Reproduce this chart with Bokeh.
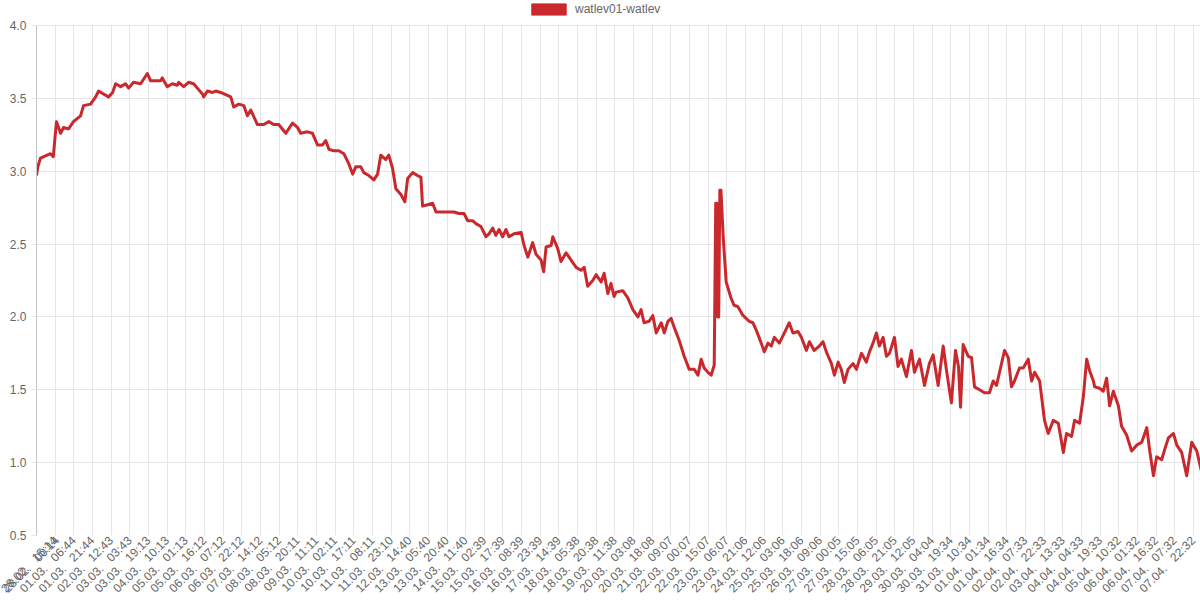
import math
from bokeh.plotting import figure
from bokeh.models import (FixedTicker, Legend, LegendItem, Range1d, BoxAnnotation,
                          PrintfTickFormatter, ColumnDataSource)
from bokeh.embed import file_html
from bokeh.resources import INLINE

series_name = "watlev01-watlev"

tick_dates = ["28.02.", "28.02.", "01.03.", "01.03.", "02.03.", "03.03.", "03.03.", "04.03.",
              "05.03.", "05.03.", "06.03.", "06.03.", "07.03.", "08.03.", "08.03.", "09.03.",
              "10.03.", "10.03.", "11.03.", "11.03.", "12.03.", "13.03.", "13.03.", "14.03.",
              "15.03.", "15.03.", "16.03.", "16.03.", "17.03.", "18.03.", "18.03.", "19.03.",
              "20.03.", "20.03.", "21.03.", "22.03.", "22.03.", "23.03.", "23.03.", "24.03.",
              "25.03.", "25.03.", "26.03.", "27.03.", "27.03.", "28.03.", "28.03.", "29.03.",
              "30.03.", "30.03.", "31.03.", "01.04.", "01.04.", "02.04.", "02.04.", "03.04.",
              "04.04.", "04.04.", "05.04.", "06.04.", "06.04.", "07.04.", "07.04."]
tick_times = ["00:14", "15:14", "06:44", "21:44", "12:43", "03:43", "19:13", "10:13",
              "01:13", "16:12", "07:12", "22:12", "14:12", "05:12", "20:11", "11:11",
              "02:11", "17:11", "08:11", "23:10", "14:40", "05:40", "20:40", "11:40",
              "02:39", "17:39", "08:39", "23:39", "14:39", "05:38", "20:38", "11:38",
              "03:08", "18:08", "09:07", "00:07", "15:07", "06:07", "21:06", "12:06",
              "03:06", "18:06", "09:06", "00:05", "15:05", "06:05", "21:05", "12:05",
              "04:04", "19:34", "10:34", "01:34", "16:34", "07:33", "22:33", "13:33",
              "04:33", "19:33", "10:32", "01:32", "16:32", "07:32", "22:32"]

y_ticks = [0.5, 1.0, 1.5, 2.0, 2.5, 3.0, 3.5, 4.0]

# x position in units of label steps (label i sits at i), water level value
pos = [0.00, 0.07, 0.21, 0.75, 0.90, 1.07, 1.29, 1.45, 1.72, 1.98, 2.36, 2.52, 2.90, 3.17, 3.33,
       3.59, 3.86, 4.08, 4.24, 4.51, 4.77, 4.94, 5.20, 5.58, 5.94, 6.12, 6.65, 6.74, 7.01, 7.28,
       7.55, 7.62, 7.89, 8.15, 8.42, 8.62, 8.89, 8.96, 9.16, 9.43, 9.60, 9.87, 10.23, 10.41, 10.57,
       10.84, 11.11, 11.30, 11.48, 11.84, 12.18, 12.45, 12.71, 12.98, 13.36, 13.72, 13.99, 14.16,
       14.52, 14.79, 15.06, 15.33, 15.50, 15.67, 15.93, 16.20, 16.47, 16.74, 16.94, 17.11, 17.38,
       17.54, 17.81, 18.08, 18.28, 18.45, 18.72, 18.88, 19.08, 19.26, 19.53, 19.74, 19.89, 20.16,
       20.42, 20.60, 20.69, 20.96, 21.23, 21.41, 22.03, 22.37, 22.64, 22.91, 23.11, 23.37, 23.55,
       23.82, 24.09, 24.25, 24.45, 24.62, 24.79, 24.98, 25.16, 25.32, 25.59, 25.97, 26.13, 26.33,
       26.59, 26.77, 27.04, 27.18, 27.31, 27.58, 27.67, 27.93, 28.11, 28.38, 28.65, 28.92, 29.18,
       29.35, 29.54, 29.81, 29.99, 30.26, 30.42, 30.62, 30.79, 30.95, 31.06, 31.42, 31.69, 31.96,
       32.23, 32.40, 32.56, 32.83, 33.03, 33.21, 33.48, 33.64, 33.84, 34.01, 34.17, 34.44, 34.71,
       34.98, 35.25, 35.45, 35.62, 35.78, 35.98, 36.16, 36.32, 36.40, 36.46, 36.50, 36.56, 36.62,
       36.68, 36.80, 36.96, 37.22, 37.38, 37.59, 37.86, 38.20, 38.39, 38.57, 38.84, 39.00, 39.20,
       39.38, 39.54, 39.81, 40.08, 40.34, 40.54, 40.81, 40.99, 41.26, 41.42, 41.68, 41.95, 42.15,
       42.33, 42.60, 42.76, 42.96, 43.13, 43.29, 43.49, 43.76, 43.94, 44.21, 44.47, 44.64, 44.83,
       45.01, 45.17, 45.37, 45.55, 45.71, 45.98, 46.17, 46.35, 46.62, 46.89, 47.05, 47.32, 47.59,
       47.85, 48.05, 48.32, 48.59, 48.76, 49.03, 49.25, 49.41, 49.52, 49.66, 49.93, 50.11, 50.27,
       50.54, 50.80, 51.07, 51.27, 51.45, 51.61, 51.88, 52.08, 52.25, 52.41, 52.68, 52.88, 53.15,
       53.33, 53.49, 53.76, 54.02, 54.22, 54.49, 54.76, 55.03, 55.20, 55.47, 55.63, 55.90, 56.10,
       56.28, 56.44, 56.64, 56.71, 56.98, 57.17, 57.35, 57.51, 57.71, 57.98, 58.15, 58.42, 58.69,
       58.96, 59.23, 59.50, 59.66, 59.86, 60.03, 60.30, 60.46, 60.66, 60.93, 61.11, 61.37, 61.64,
       61.91, 62.18, 62.45]
level = [2.97, 3.03, 3.09, 3.12, 3.10, 3.34, 3.26, 3.30, 3.29, 3.34, 3.38, 3.45, 3.46, 3.51, 3.55,
         3.53, 3.51, 3.54, 3.60, 3.58, 3.60, 3.57, 3.61, 3.60, 3.67, 3.62, 3.62, 3.64, 3.58, 3.60,
         3.59, 3.61, 3.58, 3.61, 3.60, 3.57, 3.53, 3.51, 3.55, 3.54, 3.55, 3.54, 3.52, 3.51, 3.44,
         3.46, 3.45, 3.38, 3.42, 3.32, 3.32, 3.34, 3.32, 3.32, 3.26, 3.33, 3.30, 3.26,
         3.27, 3.26, 3.18, 3.18, 3.21, 3.15, 3.14, 3.14, 3.12, 3.05, 2.98, 3.03, 3.03,
         2.99, 2.97, 2.94, 2.98, 3.11, 3.08, 3.11, 3.02, 2.88, 2.84, 2.79, 2.95, 2.99,
         2.97, 2.96, 2.76, 2.77, 2.78, 2.72, 2.72, 2.72, 2.71, 2.71, 2.66, 2.66, 2.64,
         2.62, 2.55, 2.57, 2.61, 2.56, 2.60, 2.55, 2.60, 2.55, 2.57, 2.58, 2.49, 2.41,
         2.51, 2.43, 2.39, 2.31, 2.48, 2.49, 2.55, 2.47, 2.38, 2.44, 2.39, 2.34, 2.32,
         2.34, 2.21, 2.25, 2.29, 2.24, 2.30, 2.16, 2.23, 2.14, 2.17, 2.18, 2.13, 2.05,
         2.00, 2.05, 1.96, 1.97, 2.01, 1.89, 1.96, 1.89, 1.97, 1.99, 1.93, 1.84, 1.73,
         1.64, 1.64, 1.60, 1.71, 1.65, 1.62, 1.60, 1.67, 2.78, 2.78, 2.00, 2.00, 2.87,
         2.87, 2.55, 2.24, 2.13, 2.08, 2.07, 2.01, 1.97, 1.96, 1.91, 1.82, 1.76, 1.82,
         1.80, 1.86, 1.82, 1.89, 1.96, 1.89, 1.90, 1.86, 1.77, 1.83, 1.77, 1.80, 1.83,
         1.76, 1.68, 1.60, 1.69, 1.64, 1.55, 1.64, 1.68, 1.64, 1.75, 1.69, 1.76, 1.82,
         1.89, 1.80, 1.86, 1.73, 1.75, 1.86, 1.66, 1.71, 1.59, 1.77, 1.62, 1.71, 1.53,
         1.68, 1.74, 1.53, 1.80, 1.64, 1.41, 1.77, 1.66, 1.38, 1.81, 1.73, 1.72, 1.52,
         1.50, 1.48, 1.48, 1.56, 1.53, 1.62, 1.77, 1.72, 1.52, 1.56, 1.65, 1.65, 1.71,
         1.56, 1.62, 1.56, 1.29, 1.20, 1.29, 1.27, 1.07, 1.20, 1.18, 1.29, 1.27, 1.45,
         1.71, 1.63, 1.56, 1.52, 1.51, 1.49, 1.58, 1.39, 1.49, 1.39, 1.25, 1.19, 1.08,
         1.12, 1.14, 1.24, 1.08, 0.91, 1.04, 1.02, 1.09, 1.17, 1.20, 1.12, 1.07, 0.91,
         1.14, 1.08, 0.93]

LINE_COLOR = "#c9282d"
GRID = "#e6e6e6"
TXT = "#666666"
FONT = "Liberation Sans"

Y_MIN, Y_MAX = y_ticks[0], y_ticks[-1]
# frame extends above the top tick to leave room for the legend row
y_top = (Y_MAX - Y_MIN * 25 / 536) / (1 - 25 / 536)

p = figure(width=1200, height=603, output_backend="svg", toolbar_location=None,
           x_range=Range1d(0, 62.38), y_range=Range1d(Y_MIN, y_top),
           min_border_left=36, min_border_right=0, min_border_top=0, min_border_bottom=0)
p.outline_line_color = None
p.background_fill_color = "white"
p.border_fill_color = "white"

src = ColumnDataSource(dict(x=pos, y=level))
p.line("x", "y", source=src, line_color=LINE_COLOR, line_width=3, line_join="round")

nan = float("nan")
box = p.quad(left=[nan], right=[nan], top=[nan], bottom=[nan],
             fill_color=LINE_COLOR, line_color=LINE_COLOR)

# x axis
xt = list(range(len(tick_times)))
p.xaxis.ticker = FixedTicker(ticks=xt)
p.xaxis.major_label_overrides = {i: f"{d}\u00a0\u00a0\u00a0{t}" for i, d, t in zip(xt, tick_dates, tick_times)}
p.xaxis.major_label_orientation = math.pi / 4
p.xaxis.axis_line_color = None
p.xaxis.major_tick_out = 0
p.xaxis.major_tick_in = 0
p.xaxis.minor_tick_line_color = None
p.xaxis.major_label_standoff = 3
p.xaxis.major_label_text_font = FONT
p.xaxis.major_label_text_font_size = "12px"
p.xaxis.major_label_text_color = TXT

# y axis
p.yaxis.ticker = FixedTicker(ticks=y_ticks)
p.yaxis.bounds = (Y_MIN, Y_MAX)
p.yaxis.formatter = PrintfTickFormatter(format="%.1f")
p.yaxis.axis_line_color = "#c4c4c4"
p.yaxis.major_tick_line_color = GRID
p.yaxis.major_tick_out = 5
p.yaxis.major_tick_in = 0
p.yaxis.minor_tick_line_color = None
p.yaxis.major_label_standoff = 5
p.yaxis.major_label_text_font = FONT
p.yaxis.major_label_text_font_size = "12px"
p.yaxis.major_label_text_color = TXT

p.xgrid.grid_line_color = GRID
p.ygrid.grid_line_color = GRID

# blank out the grid above the top tick (legend area)
p.add_layout(BoxAnnotation(bottom=Y_MAX + 0.004, fill_color="white", fill_alpha=1.0,
                           line_color=None))

legend = Legend(items=[LegendItem(label=series_name, renderers=[box])],
                orientation="horizontal", location=(491, 519),
                glyph_width=43, glyph_height=14, label_height=14,
                label_standoff=5, padding=0, margin=0, spacing=0, border_line_color=None,
                background_fill_alpha=0,
                label_text_font=FONT, label_text_font_size="12px", label_text_color=TXT)
p.add_layout(legend, "center")

open("out.html", "w").write(file_html(p, INLINE))
